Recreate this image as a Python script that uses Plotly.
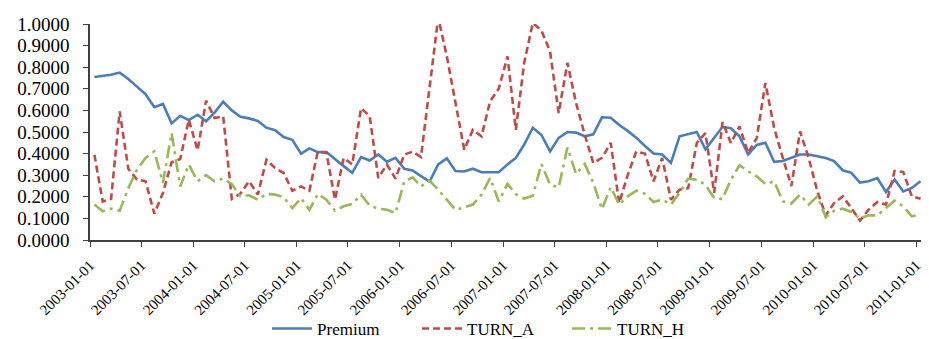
import pandas as pd
import plotly.graph_objects as go

months = pd.date_range("2003-01-01", periods=97, freq="MS").strftime("%Y-%m-%d").tolist()

premium = [0.755, 0.760, 0.765, 0.775, 0.745, 0.710, 0.675, 0.615, 0.630, 0.540,
           0.575, 0.555, 0.580, 0.550, 0.590, 0.640, 0.600, 0.570, 0.563, 0.551,
           0.520, 0.508, 0.477, 0.464, 0.400, 0.424, 0.407, 0.407, 0.373, 0.342,
           0.311, 0.384, 0.368, 0.396, 0.362, 0.380, 0.330, 0.322, 0.296, 0.270,
           0.350, 0.378, 0.319, 0.317, 0.330, 0.314, 0.314, 0.314, 0.350, 0.380,
           0.442, 0.520, 0.486, 0.410, 0.473, 0.500, 0.497, 0.480, 0.489, 0.568,
           0.566, 0.532, 0.505, 0.474, 0.435, 0.400, 0.396, 0.357, 0.480, 0.489,
           0.500, 0.420, 0.473, 0.524, 0.517, 0.480, 0.396, 0.440, 0.450, 0.362,
           0.366, 0.380, 0.396, 0.396, 0.388, 0.380, 0.365, 0.323, 0.311, 0.266,
           0.272, 0.287, 0.222, 0.280, 0.225, 0.241, 0.272]

turn_a = [0.395, 0.178, 0.190, 0.595, 0.330, 0.280, 0.272, 0.122, 0.218, 0.360,
          0.375, 0.557, 0.415, 0.645, 0.565, 0.573, 0.190, 0.215, 0.272, 0.210,
          0.372, 0.334, 0.310, 0.228, 0.248, 0.228, 0.409, 0.404, 0.187, 0.380,
          0.350, 0.610, 0.574, 0.287, 0.350, 0.284, 0.396, 0.409, 0.384, 0.700,
          1.030, 0.850, 0.640, 0.418, 0.510, 0.480, 0.642, 0.700, 0.850, 0.510,
          0.820, 1.005, 0.970, 0.873, 0.588, 0.820, 0.634, 0.488, 0.356, 0.380,
          0.450, 0.171, 0.300, 0.410, 0.400, 0.272, 0.380, 0.187, 0.233, 0.240,
          0.449, 0.495, 0.218, 0.546, 0.449, 0.526, 0.403, 0.472, 0.727, 0.519,
          0.380, 0.250, 0.503, 0.380, 0.225, 0.114, 0.171, 0.202, 0.148, 0.090,
          0.140, 0.176, 0.164, 0.320, 0.315, 0.202, 0.191]

turn_h = [0.164, 0.133, 0.145, 0.136, 0.240, 0.326, 0.380, 0.410, 0.264, 0.495,
          0.248, 0.349, 0.272, 0.300, 0.272, 0.284, 0.258, 0.202, 0.207, 0.187,
          0.213, 0.210, 0.198, 0.148, 0.194, 0.140, 0.213, 0.187, 0.136, 0.156,
          0.167, 0.210, 0.160, 0.145, 0.140, 0.125, 0.272, 0.290, 0.248, 0.275,
          0.233, 0.187, 0.140, 0.151, 0.164, 0.210, 0.287, 0.179, 0.260, 0.212,
          0.192, 0.205, 0.352, 0.256, 0.244, 0.428, 0.305, 0.352, 0.265, 0.143,
          0.245, 0.164, 0.202, 0.228, 0.214, 0.176, 0.187, 0.164, 0.218, 0.284,
          0.279, 0.256, 0.194, 0.190, 0.279, 0.346, 0.318, 0.295, 0.259, 0.272,
          0.179, 0.169, 0.210, 0.164, 0.202, 0.105, 0.136, 0.145, 0.130, 0.099,
          0.114, 0.114, 0.148, 0.182, 0.156, 0.110, 0.118]

tick_labels = ["2003-01-01", "2003-07-01", "2004-01-01", "2004-07-01", "2005-01-01",
               "2005-07-01", "2006-01-01", "2006-07-01", "2007-01-01", "2007-07-01",
               "2008-01-01", "2008-07-01", "2009-01-01", "2009-07-01", "2010-01-01",
               "2010-07-01", "2011-01-01"]

FONT = "Liberation Serif, Times New Roman, serif"

fig = go.Figure()
common = dict(mode="lines", xperiod="M1", xperiodalignment="middle")
fig.add_trace(go.Scatter(x=months, y=premium, name="Premium",
                         line=dict(color="#4A7EBB", width=2.6), **common))
fig.add_trace(go.Scatter(x=months, y=turn_a, name="TURN_A",
                         line=dict(color="#BE4B48", width=2.6, dash="7px,4px"), **common))
fig.add_trace(go.Scatter(x=months, y=turn_h, name="TURN_H",
                         line=dict(color="#98B954", width=2.6, dash="13px,5px,3px,5px"), **common))

fig.update_layout(
    width=929, height=339,
    margin=dict(l=82, r=12, t=16, b=107, autoexpand=False),
    paper_bgcolor="white", plot_bgcolor="white",
    font=dict(family=FONT, color="#000000", size=16),
    showlegend=True,
    legend=dict(orientation="h", x=0.212, xanchor="left", y=-0.495, yanchor="bottom",
                bgcolor="rgba(0,0,0,0)",
                font=dict(family=FONT, size=17), itemwidth=40,
                entrywidth=95, entrywidthmode="pixels", tracegroupgap=0),
)
fig.update_xaxes(
    type="date",
    range=["2003-01-01", "2011-02-01"],
    tickvals=tick_labels, ticktext=tick_labels,
    tickangle=-45,
    showline=True, linecolor="#404040", linewidth=1.5,
    ticks="outside", ticklen=5, tickcolor="#404040",
    ticklabelstandoff=4, automargin=False,
    showgrid=False, zeroline=False,
    tickfont=dict(family=FONT, size=15),
)
fig.update_yaxes(
    range=[0, 1.0], dtick=0.1, tick0=0, tickformat=".4f",
    showline=True, linecolor="#404040", linewidth=1.5,
    ticks="outside", ticklen=5, tickcolor="#404040",
    ticklabelstandoff=10, automargin=False,
    showgrid=False, zeroline=False,
    tickfont=dict(family=FONT, size=19),
)

fig.write_html("out.html")
